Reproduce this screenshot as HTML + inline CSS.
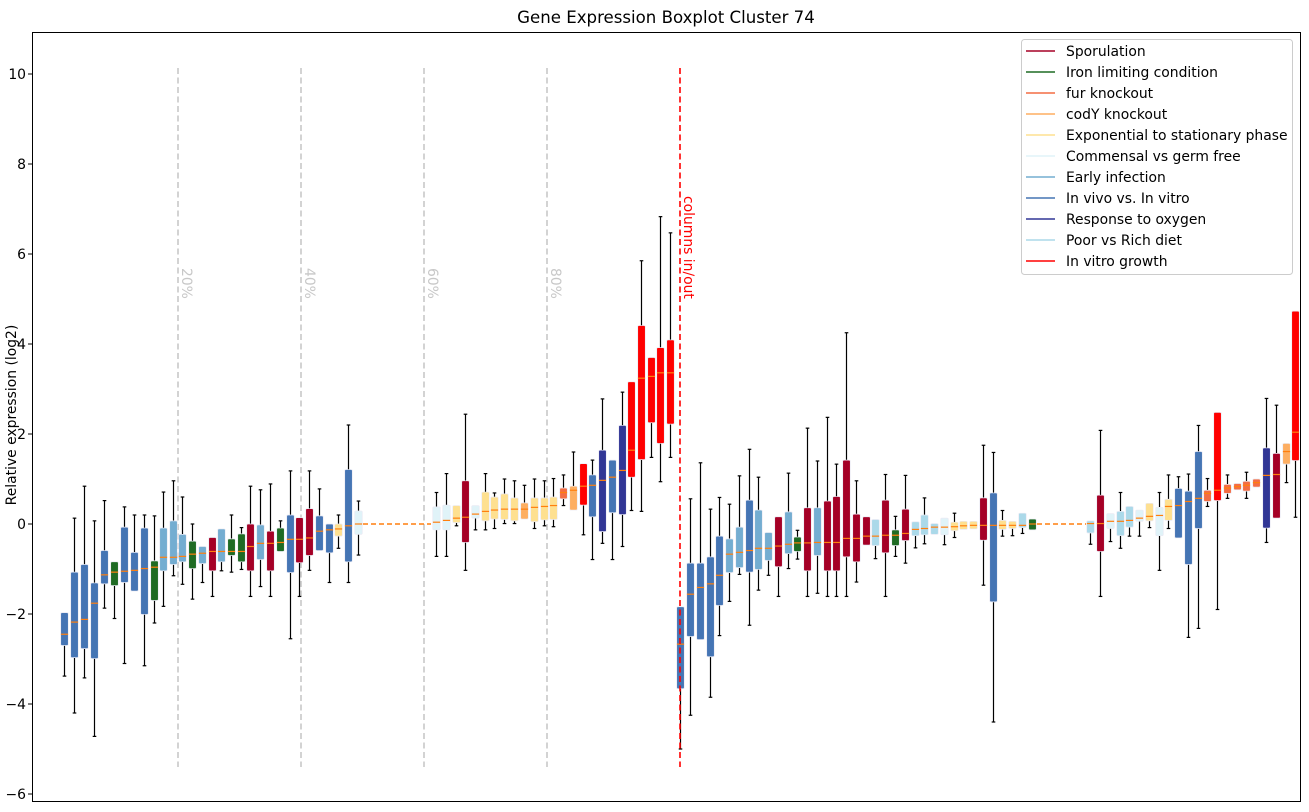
<!DOCTYPE html>
<html><head><meta charset="utf-8"><style>
html,body{margin:0;padding:0;background:#fff;}
svg{display:block;font-family:"DejaVu Sans","Liberation Sans",sans-serif;}
</style></head><body>
<svg id="s" width="1309" height="812" viewBox="0 0 1309 812" xmlns="http://www.w3.org/2000/svg">
<rect width="1309" height="812" fill="#fff"/>
<text x="666" y="23" font-size="16.6" text-anchor="middle" fill="#000">Gene Expression Boxplot Cluster 74</text>
<text transform="translate(16,415) rotate(-90)" font-size="13.9" text-anchor="middle">Relative expression (log2)</text>
<g id="grid"></g>
<g id="boxes"></g>
<rect x="32.5" y="32.5" width="1268" height="769" fill="none" stroke="#000" stroke-width="1"/>
<g id="ticks" font-size="13.9" text-anchor="end"></g>
<g>
<rect x="1021.5" y="39.5" width="271" height="235" rx="3" fill="#fff" fill-opacity="0.85" stroke="#ccc"/>
<g id="leg" font-size="13.9"></g>
</g>
</svg>
<script>
var ns="http://www.w3.org/2000/svg";
function el(p,t,a,txt){var e=document.createElementNS(ns,t);for(var k in a)e.setAttribute(k,a[k]);if(txt)e.textContent=txt;p.appendChild(e);return e;}
function Y(v){return 524-45*v;}
var col={S:"#a50026",I:"#1f6b24",F:"#f46d43",C:"#fdae61",E:"#fee090",M:"#e0f3f8",A:"#74add1",V:"#4575b4",O:"#313695",P:"#abd9e9",R:"#ff0000"};
var g=document.getElementById("grid"),b=document.getElementById("boxes"),tk=document.getElementById("ticks"),lg=document.getElementById("leg");
[[178,"20%"],[301,"40%"],[424,"60%"],[547,"80%"]].forEach(function(d){
 el(g,"line",{x1:d[0],x2:d[0],y1:68,y2:767,stroke:"#c8c8c8","stroke-width":1.6,"stroke-dasharray":"6,3.5"});
 el(g,"text",{transform:"translate("+(d[0]+4)+",268) rotate(90)","font-size":13.9,fill:"#c8c8c8"},d[1]);
});
for(var v=-6;v<=10;v+=2){el(tk,"line",{x1:28,x2:32,y1:Y(v),y2:Y(v),stroke:"#000"});el(tk,"text",{x:26,y:Y(v)+5},v==0?"0":(v<0?"\u2212"+(-v):""+v));}
var D=[
[64,"V",-3.38,-2.7,-2.45,-1.97,-1.97],[74,"V",-4.2,-2.97,-2.18,-1.07,0.13],[84,"V",-3.42,-2.77,-2.12,-0.9,0.84],[94,"V",-4.72,-2.99,-1.76,-1.31,0.07],
[104,"V",-1.87,-1.33,-1.13,-0.59,0.52],[114,"I",-2.1,-1.37,-1.07,-0.84,-0.84],[124,"V",-3.1,-1.3,-1.05,-0.07,0.38],[134,"V",-1.49,-1.49,-1.03,-0.63,0.2],
[144,"V",-3.15,-2.01,-0.99,-0.09,0.2],[154,"I",-2.2,-1.7,-0.96,-0.82,0.18],[163,"A",-1.83,-1.04,-0.74,-0.09,0.71],[173,"A",-1.15,-0.9,-0.74,0.07,0.96],
[182,"A",-1.34,-0.84,-0.72,-0.23,0.6],[192,"I",-1.67,-0.99,-0.67,-0.38,0],[202,"A",-1.3,-0.88,-0.65,-0.5,-0.5],[212,"S",-1.61,-1.04,-0.61,-0.3,-0.3],
[221,"A",-1.04,-0.84,-0.61,-0.11,-0.11],[231,"I",-1.07,-0.7,-0.61,-0.33,0.2],[241,"I",-1.01,-0.84,-0.61,-0.22,-0.08],[250,"S",-1.61,-1.04,-0.5,0,0.84],
[260,"A",-1.39,-0.79,-0.43,-0.02,0.76],[270,"S",-1.61,-1.04,-0.43,-0.16,0.89],[280,"I",-0.61,-0.61,-0.41,-0.09,0.07],[290,"V",-2.55,-1.08,-0.34,0.2,1.18],
[299,"S",-1.61,-0.86,-0.34,0.14,0.14],[309,"S",-1.03,-0.7,-0.31,0.34,1.18],[319,"V",-0.59,-0.59,-0.16,0.18,0.78],[329,"V",-1.3,-0.64,-0.13,0,0],
[338,"E",-0.54,-0.27,-0.11,0,0.2],[348,"V",-1.3,-0.84,-0.04,1.21,2.2],[358,"M",-0.69,-0.23,0,0.29,0.51],
[436,"M",-0.72,-0.13,0.04,0.38,0.7],[446,"M",-0.72,-0.13,0.08,0.42,1.12],[456,"E",-0.04,0.03,0.13,0.41,0.41],[465,"S",-1.03,-0.41,0.15,0.96,2.44],
[475,"M",-0.13,0.13,0.22,0.41,0.41],[485,"E",-0.13,0.07,0.28,0.71,1.12],[494,"E",-0.1,0.11,0.31,0.6,0.69],[504,"E",0.01,0.1,0.33,0.67,1.0],
[514,"E",0.01,0.07,0.33,0.58,0.96],[524,"C",0.11,0.11,0.33,0.47,0.86],[534,"E",-0.1,0.05,0.37,0.58,1.0],[544,"E",-0.04,0.09,0.39,0.58,0.96],
[553,"E",-0.06,0.1,0.41,0.6,1.01],[563,"F",0.41,0.56,0.7,0.8,1.09],[573,"C",0.31,0.31,0.75,0.84,1.6],[583,"R",-0.24,0.42,0.84,1.34,1.34],
[592,"V",-0.79,0.16,0.86,1.09,1.42],[602,"O",-0.43,-0.17,0.97,1.64,2.78],[612,"V",-0.79,0.25,1.04,1.42,1.42],[622,"O",-0.5,0.21,1.19,2.19,2.93],
[631,"R",0.3,1.04,1.64,3.16,3.16],[641,"R",0.28,1.43,3.24,4.41,5.85],[651,"R",1.48,2.25,3.28,3.7,3.7],[660,"R",0.94,1.79,3.36,3.92,6.83],[670,"R",1.48,2.22,3.36,4.09,6.47],
[680,"V",-5.0,-3.66,-2.67,-1.84,-1.84],[690,"V",-4.25,-2.5,-1.56,-0.87,0.56],[700,"V",-2.57,-2.57,-1.41,-0.87,1.36],[710,"V",-3.85,-2.95,-1.33,-0.73,0.33],
[719,"V",-2.48,-1.81,-1.14,-0.27,0.59],[729,"A",-1.72,-1.08,-0.67,-0.33,0.44],[739,"A",-1.12,-0.97,-0.63,-0.07,1.07],[749,"V",-2.25,-1.07,-0.59,0.53,1.66],
[758,"A",-1.47,-1.01,-0.54,0.31,1.04],[768,"A",-1.14,-0.81,-0.54,-0.19,-0.19],[778,"S",-1.61,-0.95,-0.49,0.16,0.16],[788,"A",-0.99,-0.66,-0.45,0.27,1.13],
[797,"I",-0.78,-0.61,-0.42,-0.29,-0.14],[807,"S",-1.61,-1.04,-0.42,0.36,2.13],[817,"A",-1.54,-0.7,-0.41,0.36,1.4],[827,"S",-1.61,-1.04,-0.41,0.51,2.37],
[836,"S",-1.61,-1.04,-0.41,0.61,1.33],[846,"S",-1.61,-0.73,-0.32,1.42,4.25],[856,"S",-1.29,-0.84,-0.32,0.22,0.96],[866,"S",-0.47,-0.47,-0.27,0.16,0.16],
[875,"P",-0.77,-0.48,-0.27,0.1,0.1],[885,"S",-1.61,-0.64,-0.25,0.53,1.1],[895,"I",-0.72,-0.48,-0.25,-0.13,0.17],[905,"S",-0.87,-0.37,-0.21,0.33,1.08],
[915,"P",-0.53,-0.26,-0.12,0.05,0.05],[924,"P",-0.44,-0.24,-0.1,0.2,0.58],[934,"P",-0.23,-0.23,-0.07,0.01,0.01],[944,"M",-0.46,-0.24,-0.07,0.13,0.13],
[954,"E",-0.3,-0.15,-0.06,0.04,0.24],[963,"E",-0.12,-0.12,-0.04,0.06,0.06],[973,"E",-0.11,-0.11,-0.03,0.06,0.06],[983,"S",-1.36,-0.36,-0.03,0.58,1.75],
[993,"V",-4.4,-1.73,-0.03,0.69,1.59],[1002,"E",-0.27,-0.12,-0.03,0.08,0.3],[1012,"E",-0.26,-0.1,-0.03,0.06,0.06],[1022,"P",-0.21,-0.08,-0.03,0.24,0.24],
[1032,"I",-0.13,-0.13,0,0.11,0.11],
[1090,"P",-0.45,-0.2,0.01,0.07,0.07],[1100,"S",-1.61,-0.61,0.01,0.64,2.08],[1110,"M",-0.39,-0.1,0.06,0.23,0.23],[1120,"P",-0.54,-0.26,0.06,0.28,0.7],
[1129,"P",-0.27,-0.07,0.08,0.39,0.39],[1139,"M",-0.27,0.06,0.13,0.31,0.31],[1149,"E",-0.08,0.07,0.17,0.46,0.46],[1159,"M",-1.03,-0.26,0.19,0.37,0.7],
[1168,"E",-0.1,0.08,0.39,0.55,1.09],[1178,"V",-0.31,-0.31,0.41,0.79,1.05],[1188,"V",-2.52,-0.9,0.5,0.73,1.11],[1198,"V",-2.32,-0.1,0.57,1.61,2.19],
[1207,"F",0.39,0.5,0.68,0.75,1.01],[1217,"R",-1.9,0.52,0.75,2.48,2.48],[1227,"F",0.57,0.68,0.8,0.88,1.09],[1237,"F",0.76,0.76,0.83,0.9,0.9],
[1246,"F",0.57,0.73,0.86,0.95,1.15],[1256,"F",0.82,0.82,0.92,1.0,1.0],[1266,"O",-0.41,-0.09,1.08,1.69,2.79],[1276,"S",0.13,0.13,1.1,1.57,2.64],
[1286,"C",0.92,1.33,1.61,1.79,1.79],[1295,"R",0.15,1.41,2.04,4.73,4.73]];
D.forEach(function(d){
 var x=d[0]+0.5,lo=Y(d[2]),q1=Y(d[3]),md=Y(d[4]),q3=Y(d[5]),hi=Y(d[6]);
 if(hi<q3-0.5){el(b,"line",{x1:x,x2:x,y1:hi,y2:q3,stroke:"#000","stroke-width":1.2});el(b,"line",{x1:x-1.8,x2:x+1.8,y1:hi,y2:hi,stroke:"#000","stroke-width":1.2});}
 if(lo>q1+0.5){el(b,"line",{x1:x,x2:x,y1:q1,y2:lo,stroke:"#000","stroke-width":1.2});el(b,"line",{x1:x-1.8,x2:x+1.8,y1:lo,y2:lo,stroke:"#000","stroke-width":1.2});}
 var h=Math.max(q1-q3,3);
 el(b,"rect",{x:x-3.8,y:q3,width:7.6,height:h,rx:1.2,fill:col[d[1]],stroke:"#eaeaf4","stroke-width":0.7});
 el(b,"line",{x1:x-3.6,x2:x+3.6,y1:md,y2:md,stroke:"#ff7f0e","stroke-width":1.2});
});
el(b,"line",{x1:363,x2:431,y1:524,y2:524,stroke:"#ff7f0e","stroke-width":1.5,"stroke-dasharray":"5,3"});
el(b,"line",{x1:1037,x2:1086,y1:524,y2:524,stroke:"#ff7f0e","stroke-width":1.5,"stroke-dasharray":"5,3"});
el(b,"line",{x1:680,x2:680,y1:68,y2:767,stroke:"#ff0000","stroke-width":1.6,"stroke-dasharray":"6,3.5"});
el(b,"text",{transform:"translate(684,196) rotate(90)","font-size":13.9,fill:"#ff0000"},"columns in/out");
var L=[["S","Sporulation"],["I","Iron limiting condition"],["F","fur knockout"],["C","codY knockout"],["E","Exponential to stationary phase"],["M","Commensal vs germ free"],["A","Early infection"],["V","In vivo vs. In vitro"],["O","Response to oxygen"],["P","Poor vs Rich diet"],["R","In vitro growth"]];
L.forEach(function(l,i){var y=51+i*21;el(lg,"line",{x1:1026,x2:1055,y1:y,y2:y,stroke:col[l[0]],"stroke-width":1.6});el(lg,"text",{x:1066,y:y+5},l[1]);});
</script>
</body></html>
